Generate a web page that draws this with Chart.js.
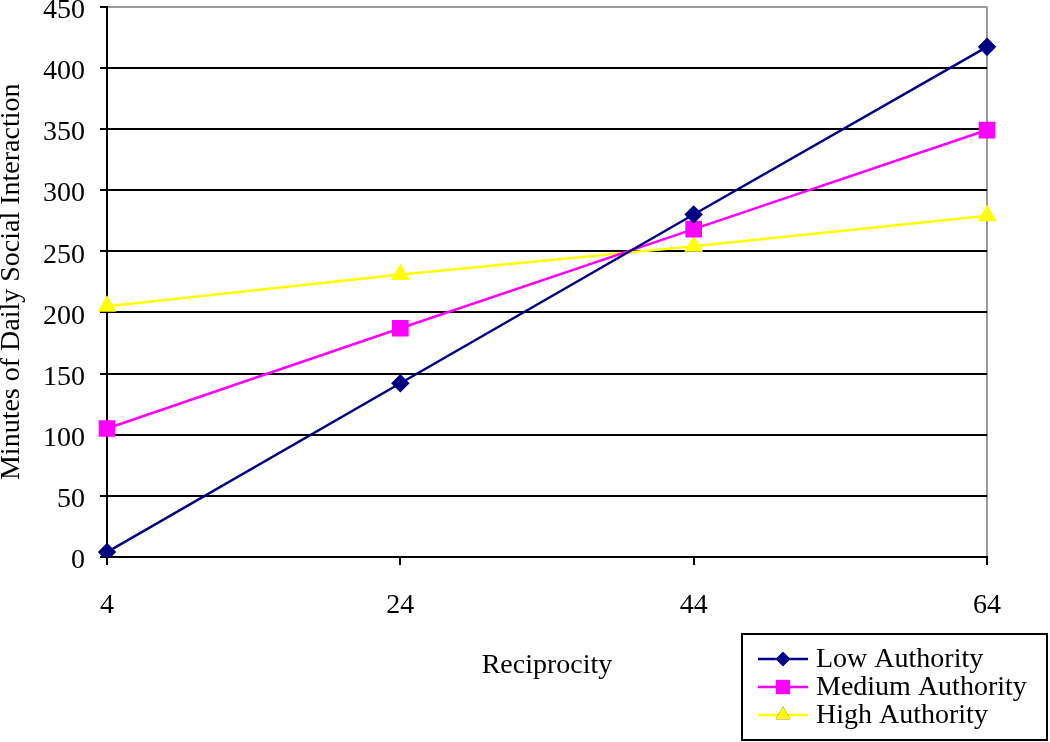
<!DOCTYPE html>
<html>
<head>
<meta charset="utf-8">
<script src="https://cdn.jsdelivr.net/npm/chart.js@4/dist/chart.umd.min.js"></script>
<style>
  html, body { margin: 0; padding: 0; background: #fff; overflow: hidden; }
  #wrap { width: 1050px; height: 742px; position: relative; overflow: hidden; }
  #chart { position: absolute; left: 0; top: -6px; }
</style>
</head>
<body>
<div id="wrap"><canvas id="chart" width="1050" height="748"></canvas></div>
<script>
// data
const reciprocity = ['4', '24', '44', '64'];
const lowAuthority = [4, 142, 280, 417];
const mediumAuthority = [105, 187, 268, 349];
const highAuthority = [205, 231, 254, 279];
const yTicks = [0, 50, 100, 150, 200, 250, 300, 350, 400, 450];

const serif = "'Liberation Serif', 'Times New Roman', serif";

// boxed legend at bottom right, drawn from the dataset styles
const boxLegend = {
  id: 'boxLegend',
  afterDraw: function(chart) {
    const ctx = chart.ctx;
    const x = 742, y = 640, w = 305, h = 106;
    ctx.save();
    ctx.fillStyle = '#fff';
    ctx.fillRect(x, y, w, h);
    ctx.strokeStyle = '#000';
    ctx.lineWidth = 2;
    ctx.strokeRect(x, y, w, h);
    chart.data.datasets.forEach(function(ds, i) {
      const cy = y + 25 + i * 28;
      ctx.strokeStyle = ds.borderColor;
      ctx.lineWidth = 2.5;
      ctx.beginPath();
      ctx.moveTo(758, cy);
      ctx.lineTo(808, cy);
      ctx.stroke();
      Chart.helpers.drawPoint(ctx, {
        pointStyle: ds.pointStyle,
        radius: ds.pointRadius,
        borderWidth: 0
      }, 783, cy);
      ctx.fillStyle = ds.pointBackgroundColor;
      ctx.fill();
      ctx.fillStyle = '#000';
      ctx.font = '28px ' + serif;
      ctx.textBaseline = 'middle';
      ctx.textAlign = 'left';
      ctx.fillText(ds.label, 816, cy + 1);
    });
    ctx.restore();
  }
};

new Chart(document.getElementById('chart'), {
  type: 'line',
  data: {
    labels: reciprocity,
    datasets: [
      {
        label: 'Low Authority',
        data: lowAuthority,
        borderColor: '#000080',
        pointBackgroundColor: '#000080',
        pointBorderColor: '#000080',
        pointStyle: 'rectRot',
        pointRadius: 7.5,
        borderWidth: 2.5
      },
      {
        label: 'Medium Authority',
        data: mediumAuthority,
        borderColor: '#ff00ff',
        pointBackgroundColor: '#ff00ff',
        pointBorderColor: '#ff00ff',
        pointStyle: 'rect',
        pointRadius: 10,
        borderWidth: 2.5
      },
      {
        label: 'High Authority',
        data: highAuthority,
        borderColor: '#ffff00',
        pointBackgroundColor: '#ffff00',
        pointBorderColor: '#ffff00',
        pointStyle: 'triangle',
        pointRadius: 8.5,
        borderWidth: 2.5
      }
    ]
  },
  options: {
    responsive: false,
    animation: false,
    layout: { padding: { top: 1, right: 63, left: 0, bottom: 0 } },
    plugins: {
      legend: { display: false },
      tooltip: { enabled: false }
    },
    elements: {
      line: { tension: 0 },
      point: { borderWidth: 0 }
    },
    scales: {
      x: {
        offset: false,
        afterFit: function(scale) {
          scale.height = 185;
          scale.paddingLeft = 0;
          scale.paddingRight = 0;
        },
        grid: {
          drawOnChartArea: true,
          color: function(c) { return c.index === reciprocity.length - 1 ? '#999' : 'rgba(0,0,0,0)'; },
          tickColor: '#000',
          tickLength: 8,
          lineWidth: 2
        },
        border: { color: '#000', width: 2 },
        ticks: {
          color: '#000',
          padding: 24,
          maxRotation: 0,
          font: { family: serif, size: 28 }
        },
        title: {
          display: true,
          text: 'Reciprocity',
          color: '#000',
          padding: { top: 0, bottom: 60 },
          font: { family: serif, size: 28 }
        }
      },
      y: {
        min: 0,
        max: 450,
        afterFit: function(scale) {
          scale.width = 107;
          scale.paddingTop = 0;
          scale.paddingBottom = 0;
        },
        afterBuildTicks: function(scale) {
          scale.ticks = yTicks.map(function(v) { return { value: v }; });
        },
        grid: {
          color: function(c) { return c.tick && c.tick.value === 450 ? '#999' : '#000'; },
          tickColor: '#000',
          tickLength: 7,
          lineWidth: 2
        },
        border: { color: '#000', width: 2 },
        ticks: {
          color: '#000',
          padding: 15,
          labelOffset: 4,
          font: { family: serif, size: 28 }
        },
        title: {
          display: true,
          text: 'Minutes of Daily Social Interaction',
          color: '#000',
          padding: 0,
          font: { family: serif, size: 28, lineHeight: 0.85 }
        }
      }
    }
  },
  plugins: [boxLegend]
});
</script>
</body>
</html>
